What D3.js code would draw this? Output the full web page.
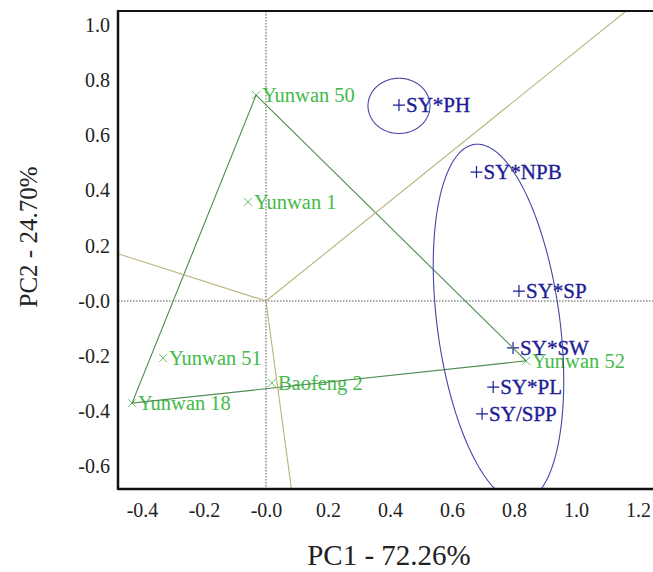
<!DOCTYPE html>
<html>
<head>
<meta charset="utf-8">
<script src="https://cdn.jsdelivr.net/npm/d3@7"></script>
<style>
  body { margin: 0; background: #fff; }
  text { font-family: "Liberation Serif", "Times New Roman", serif; }
</style>
</head>
<body>
<script>
// Genotype scores (green x markers)
const genotypes = ["Yunwan 50", "Yunwan 1", "Yunwan 51", "Yunwan 18", "Baofeng 2", "Yunwan 52"];
const genoPC1 = [-0.032, -0.058, -0.332, -0.432, 0.019, 0.839];
const genoPC2 = [0.746, 0.359, -0.207, -0.370, -0.297, -0.217];

// Trait combination scores (blue + markers)
const traits = ["SY*PH", "SY*NPB", "SY*SP", "SY*SW", "SY*PL", "SY/SPP"];
const traitPC1 = [0.429, 0.679, 0.816, 0.797, 0.733, 0.697];
const traitPC2 = [0.710, 0.467, 0.036, -0.170, -0.312, -0.409];

// Polygon vertices (which-won-where)
const hull = ["Yunwan 50", "Yunwan 52", "Yunwan 18"];

// Ellipses around trait groups: centre, semi-axes, angle (deg)
const ellCX = [0.429, 0.750];
const ellCY = [0.707, -0.080];
const ellA = [0.100, 0.652];
const ellB = [0.100, 0.198];
const ellAngle = [0, 96.6];

// Ticks
const xTicks = [-0.4, -0.2, 0, 0.2, 0.4, 0.6, 0.8, 1.0, 1.2];
const xTickLabels = ["-0.4", "-0.2", "-0.0", "0.2", "0.4", "0.6", "0.8", "1.0", "1.2"];
const yTicks = [-0.6, -0.4, -0.2, 0, 0.2, 0.4, 0.6, 0.8, 1.0];
const yTickLabels = ["-0.6", "-0.4", "-0.2", "-0.0", "0.2", "0.4", "0.6", "0.8", "1.0"];

const W = 653, H = 572;
const margin = { top: 11, right: 0, bottom: 83, left: 118 };

const svg = d3.select("body").append("svg")
  .attr("width", W)
  .attr("height", H);

const xScale = d3.scaleLinear().domain([-0.4774, 1.2484]).range([margin.left, W - margin.right]);
const yScale = d3.scaleLinear().domain([-0.6812, 1.0507]).range([H - margin.bottom, margin.top]);

const x0 = margin.left, x1 = W - margin.right, y0 = margin.top, y1 = H - margin.bottom;

svg.append("clipPath").attr("id", "plot")
  .append("rect")
  .attr("x", x0).attr("y", y0)
  .attr("width", x1 - x0).attr("height", y1 - y0);

const plot = svg.append("g").attr("clip-path", "url(#plot)");

// dotted zero lines
plot.append("line")
  .attr("x1", xScale(0)).attr("x2", xScale(0))
  .attr("y1", y0).attr("y2", y1)
  .attr("stroke", "#555").attr("stroke-width", 1).attr("stroke-dasharray", "1.5,1.5");
plot.append("line")
  .attr("x1", x0).attr("x2", x1)
  .attr("y1", yScale(0)).attr("y2", yScale(0))
  .attr("stroke", "#555").attr("stroke-width", 1).attr("stroke-dasharray", "1.5,1.5");

// labels
const geno = genotypes.map((g, i) => ({ name: g, x: genoPC1[i], y: genoPC2[i] }));
const trait = traits.map((t, i) => ({ name: t, x: traitPC1[i], y: traitPC2[i] }));

plot.selectAll(".glabel")
  .data(geno)
  .enter().append("text")
  .attr("class", "glabel")
  .attr("x", d => xScale(d.x) + 6)
  .attr("y", d => yScale(d.y))
  .attr("dy", "0.35em")
  .attr("fill", "#44ba48")
  .style("font-size", "20.5px")
  .text(d => d.name);

plot.selectAll(".tlabel")
  .data(trait)
  .enter().append("text")
  .attr("class", "tlabel")
  .attr("x", d => xScale(d.x) + 7)
  .attr("y", d => yScale(d.y))
  .attr("dy", "0.35em")
  .attr("fill", "#1e1e96")
  .attr("stroke", "#1e1e96")
  .attr("stroke-width", 0.35)
  .style("font-size", "21px")
  .text(d => d.name);

// markers
plot.selectAll(".gmark")
  .data(geno)
  .enter().append("path")
  .attr("class", "gmark")
  .attr("d", d => {
    const cx = xScale(d.x), cy = yScale(d.y), s = 4;
    return `M${cx - s},${cy - s}L${cx + s},${cy + s}M${cx - s},${cy + s}L${cx + s},${cy - s}`;
  })
  .attr("stroke", "#6cc06c").attr("stroke-width", 1).attr("fill", "none");

plot.selectAll(".tmark")
  .data(trait)
  .enter().append("path")
  .attr("class", "tmark")
  .attr("d", d => {
    const cx = xScale(d.x), cy = yScale(d.y), s = 6;
    return `M${cx - s},${cy}L${cx + s},${cy}M${cx},${cy - s}L${cx},${cy + s}`;
  })
  .attr("stroke", "#1e1e96").attr("stroke-width", 1.2).attr("fill", "none");

// polygon
const hullPts = hull.map(n => geno.find(g => g.name === n));
plot.append("path")
  .datum(hullPts)
  .attr("d", d3.line().x(d => xScale(d.x)).y(d => yScale(d.y)).curve(d3.curveLinearClosed))
  .attr("fill", "none")
  .attr("stroke", "#4e8c4e")
  .attr("stroke-width", 1.1);

// rays from origin perpendicular to each polygon side
hullPts.forEach((p, i) => {
  const q = hullPts[(i + 1) % hullPts.length];
  let nx = q.y - p.y, ny = -(q.x - p.x);
  if (nx * p.x + ny * p.y < 0) { nx = -nx; ny = -ny; }
  const len = Math.hypot(nx, ny);
  const far = 5;
  plot.append("line")
    .attr("x1", xScale(0)).attr("y1", yScale(0))
    .attr("x2", xScale(nx / len * far)).attr("y2", yScale(ny / len * far))
    .attr("stroke", "#bab27a")
    .attr("stroke-width", 1.1);
});

// ellipses
const ellLine = d3.line().x(d => xScale(d[0])).y(d => yScale(d[1])).curve(d3.curveLinearClosed);
ellCX.forEach((cx, i) => {
  const th = ellAngle[i] * Math.PI / 180;
  const pts = d3.range(0, 2 * Math.PI, Math.PI / 90).map(t => [
    cx + ellA[i] * Math.cos(t) * Math.cos(th) - ellB[i] * Math.sin(t) * Math.sin(th),
    ellCY[i] + ellA[i] * Math.cos(t) * Math.sin(th) + ellB[i] * Math.sin(t) * Math.cos(th)
  ]);
  plot.append("path")
    .attr("d", ellLine(pts))
    .attr("fill", "none")
    .attr("stroke", "#4646a6")
    .attr("stroke-width", 1.1);
});

// axes
const xAxis = d3.axisBottom(xScale)
  .tickValues(xTicks)
  .tickSize(0)
  .tickPadding(14)
  .tickFormat((d, i) => xTickLabels[i]);
const yAxis = d3.axisLeft(yScale)
  .tickValues(yTicks)
  .tickSize(0)
  .tickPadding(8)
  .tickFormat((d, i) => yTickLabels[i]);

const gx = svg.append("g")
  .attr("transform", "translate(0," + y1 + ")")
  .call(xAxis);
const gy = svg.append("g")
  .attr("transform", "translate(" + x0 + ",0)")
  .call(yAxis);
[gx, gy].forEach(g => {
  g.select(".domain").remove();
  g.selectAll("text")
    .attr("fill", "#222")
    .style("font-size", "20px")
    .style("font-family", "'Liberation Serif', 'Times New Roman', serif");
});

// frame
svg.append("line").attr("x1", x0).attr("x2", x1).attr("y1", y0).attr("y2", y0)
  .attr("stroke", "#111").attr("stroke-width", 2);
svg.append("line").attr("x1", x0).attr("x2", x0).attr("y1", y0 - 1).attr("y2", y1 + 1)
  .attr("stroke", "#111").attr("stroke-width", 2.5);
svg.append("line").attr("x1", x0).attr("x2", x1).attr("y1", y1).attr("y2", y1)
  .attr("stroke", "#111").attr("stroke-width", 2.5);

// axis titles
svg.append("text")
  .attr("x", 389)
  .attr("y", 565)
  .attr("text-anchor", "middle")
  .attr("fill", "#222")
  .style("font-size", "29px")
  .text("PC1 - 72.26%");

svg.append("text")
  .attr("transform", "translate(37,237) rotate(-90)")
  .attr("text-anchor", "middle")
  .attr("fill", "#222")
  .style("font-size", "25px")
  .text("PC2 - 24.70%");
</script>
</body>
</html>
